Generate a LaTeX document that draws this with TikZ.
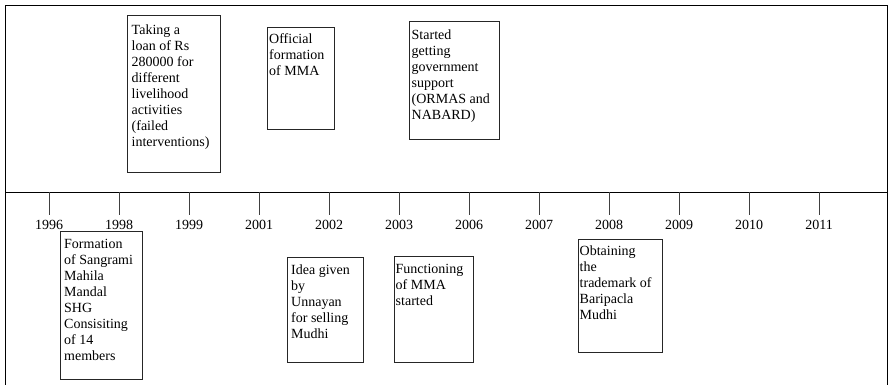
\documentclass[tikz,border=0pt]{standalone}
\usepackage{fontspec}
\setmainfont{Liberation Serif}
\begin{document}
\begin{tikzpicture}[x=1pt,y=-1pt,
  frame/.style={line width=0.9pt, black},
  axis/.style={line width=0.8pt, black},
  tick/.style={line width=0.8pt, black!75},
  event/.style={draw=black!85, line width=0.8pt, rectangle, inner sep=0pt, anchor=north west},
  eventtext/.style={inner sep=0pt, anchor=north west, align=left, font=\fontsize{14}{16}\selectfont},
  year/.style={inner sep=0pt, anchor=base, font=\fontsize{14}{16}\selectfont}]
\useasboundingbox (0,0) rectangle (888,385);

% outer frame, open at the bottom
\coordinate (fbl) at (5,385);
\coordinate (ftl) at (5,5);
\coordinate (ftr) at (887,5);
\coordinate (fbr) at (887,385);
\draw[frame] (fbl) -- (ftl) -- (ftr) -- (fbr);

% time axis
\coordinate (axl) at (5,192);
\coordinate (axr) at (887,192);
\draw[axis] (axl) -- (axr);

% ticks and years
\foreach \yr [count=\i from 0] in {1996,1998,1999,2001,2002,2003,2006,2007,2008,2009,2010,2011} {
  \coordinate (t\i) at (49+70*\i,192);
  \coordinate (tb\i) at (49+70*\i,215);
  \draw[tick] (t\i) -- (tb\i);
  \node[year] (y\i) at (49+70*\i,229) {\yr};
}

% events above the axis
\node[event, minimum width=93pt, minimum height=157pt] (b1) at (127,15) {};
\node[eventtext] (e1) at ([xshift=4.5pt,yshift=-10pt]b1.north west)
  {Taking a\\loan of Rs\\280000 for\\different\\livelihood\\activities\\(failed\\interventions)};

\node[event, minimum width=67pt, minimum height=102pt] (b2) at (267,27) {};
\node[eventtext] (e2) at ([xshift=2pt,yshift=-6pt]b2.north west)
  {Official\\formation\\of MMA};

\node[event, minimum width=90pt, minimum height=118pt] (b3) at (409,21) {};
\node[eventtext] (e3) at ([xshift=2.5pt,yshift=-9pt]b3.north west)
  {Started\\getting\\government\\support\\(ORMAS and\\NABARD)};

% events below the axis
\node[event, minimum width=82pt, minimum height=148pt] (b4) at (60,231) {};
\node[eventtext] (e4) at ([xshift=4pt,yshift=-8pt]b4.north west)
  {Formation\\of Sangrami\\Mahila\\Mandal\\SHG\\Consisiting\\of 14\\members};

\node[event, minimum width=76pt, minimum height=105pt] (b5) at (287,257) {};
\node[eventtext] (e5) at ([xshift=4pt,yshift=-8pt]b5.north west)
  {Idea given\\by\\Unnayan\\for selling\\Mudhi};

\node[event, minimum width=79pt, minimum height=106pt] (b6) at (394,256) {};
\node[eventtext] (e6) at ([xshift=1.5pt,yshift=-8pt]b6.north west)
  {Functioning\\of MMA\\started};

\node[event, minimum width=84pt, minimum height=113pt] (b7) at (578,239) {};
\node[eventtext] (e7) at ([xshift=1.5pt,yshift=-7pt]b7.north west)
  {Obtaining\\the\\trademark of\\Baripacla\\Mudhi};
\end{tikzpicture}
\end{document}
